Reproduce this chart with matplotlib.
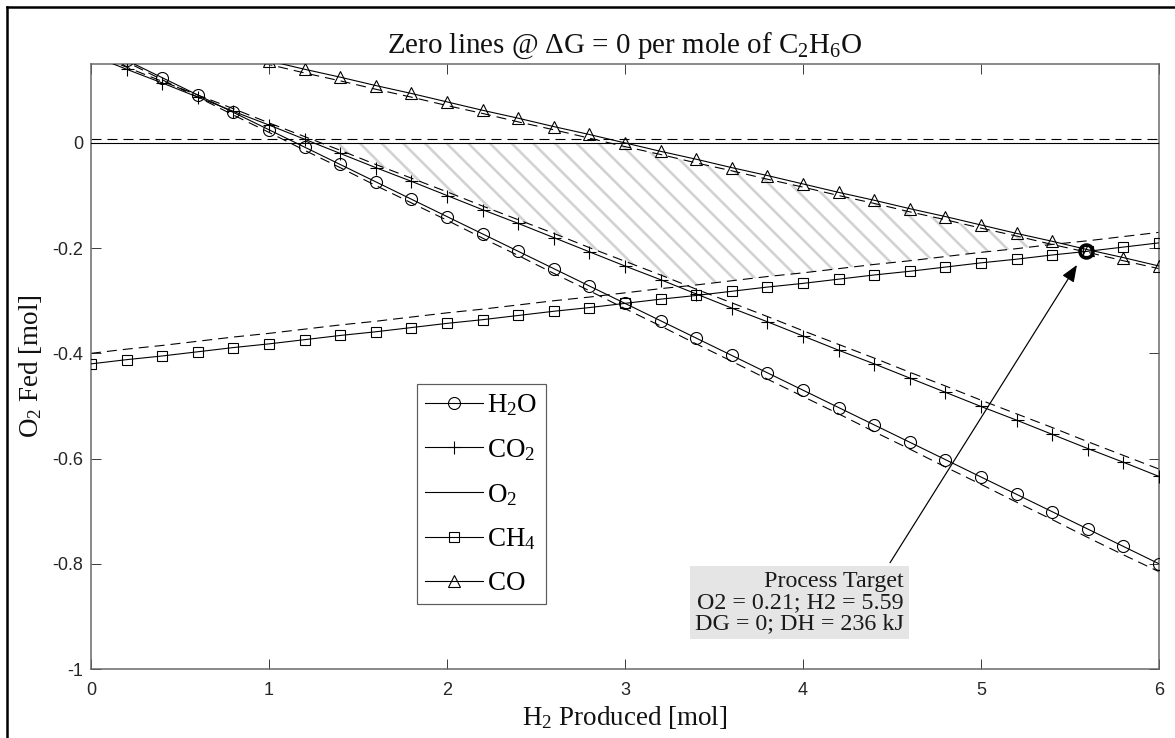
import numpy as np
import matplotlib
matplotlib.use("Agg")
import matplotlib.pyplot as plt
from matplotlib.lines import Line2D

# ---------------- data ----------------
h2_produced = [0.0, 0.2, 0.4, 0.6, 0.8, 1.0, 1.2, 1.4, 1.6, 1.8, 2.0,
               2.2, 2.4, 2.6, 2.8, 3.0, 3.2, 3.4, 3.6, 3.8, 4.0,
               4.2, 4.4, 4.6, 4.8, 5.0, 5.2, 5.4, 5.6, 5.8, 6.0]

h2o_solid = [0.190, 0.157, 0.124, 0.091, 0.058, 0.025, -0.008, -0.041, -0.074, -0.107, -0.140,
             -0.173, -0.206, -0.239, -0.272, -0.305, -0.338, -0.371, -0.404, -0.437, -0.470,
             -0.503, -0.536, -0.569, -0.602, -0.635, -0.668, -0.701, -0.734, -0.767, -0.800]
h2o_dashed = [0.187, 0.154, 0.120, 0.087, 0.053, 0.020, -0.014, -0.047, -0.081, -0.114, -0.147,
              -0.181, -0.214, -0.248, -0.281, -0.315, -0.348, -0.382, -0.415, -0.449, -0.482,
              -0.515, -0.549, -0.582, -0.616, -0.649, -0.683, -0.716, -0.750, -0.783, -0.815]

co2_solid = [0.167, 0.140, 0.114, 0.087, 0.060, 0.034, 0.007, -0.020, -0.047, -0.073, -0.100,
             -0.127, -0.153, -0.180, -0.207, -0.234, -0.260, -0.287, -0.314, -0.340, -0.367,
             -0.394, -0.420, -0.447, -0.474, -0.501, -0.527, -0.554, -0.581, -0.607, -0.634]
co2_dashed = [0.170, 0.144, 0.117, 0.091, 0.065, 0.038, 0.012, -0.014, -0.041, -0.067, -0.093,
              -0.120, -0.146, -0.172, -0.199, -0.225, -0.251, -0.278, -0.304, -0.330, -0.357,
              -0.383, -0.409, -0.436, -0.462, -0.489, -0.515, -0.541, -0.568, -0.594, -0.620]

o2_solid = [0.0] * 31
o2_dashed = [0.008] * 31

ch4_solid = [-0.420, -0.412, -0.405, -0.397, -0.389, -0.382, -0.374, -0.366, -0.359, -0.351, -0.343,
             -0.336, -0.328, -0.320, -0.313, -0.305, -0.297, -0.290, -0.282, -0.274, -0.267,
             -0.259, -0.251, -0.244, -0.236, -0.228, -0.221, -0.213, -0.206, -0.198, -0.190]
ch4_dashed = [-0.400, -0.392, -0.385, -0.377, -0.369, -0.362, -0.354, -0.346, -0.339, -0.331, -0.323,
              -0.316, -0.308, -0.300, -0.293, -0.285, -0.277, -0.270, -0.262, -0.254, -0.247,
              -0.239, -0.231, -0.224, -0.216, -0.208, -0.201, -0.193, -0.186, -0.178, -0.170]

co_solid = [0.234, 0.218, 0.203, 0.187, 0.172, 0.156, 0.140, 0.125, 0.109, 0.094, 0.078,
            0.062, 0.047, 0.031, 0.016, 0.000, -0.016, -0.031, -0.047, -0.062, -0.078,
            -0.094, -0.109, -0.125, -0.140, -0.156, -0.172, -0.187, -0.203, -0.218, -0.234]
co_dashed = [0.226, 0.211, 0.195, 0.180, 0.164, 0.149, 0.133, 0.118, 0.102, 0.087, 0.071,
             0.056, 0.040, 0.025, 0.009, -0.007, -0.022, -0.038, -0.053, -0.069, -0.084,
             -0.100, -0.115, -0.131, -0.146, -0.162, -0.177, -0.193, -0.208, -0.224, -0.239]

series_labels = [r"$\mathrm{H_2O}$", r"$\mathrm{CO_2}$", r"$\mathrm{O_2}$",
                 r"$\mathrm{CH_4}$", r"$\mathrm{CO}$"]

target_h2 = 5.59
target_o2 = -0.205
arrow_tail = (4.489, -0.798)
arrow_head = (5.539, -0.232)

x_ticks = [0, 1, 2, 3, 4, 5, 6]
x_tick_labels = ["0", "1", "2", "3", "4", "5", "6"]
y_ticks = [-1.0, -0.8, -0.6, -0.4, -0.2, 0.0]
y_tick_labels = ["-1", "-0.8", "-0.6", "-0.4", "-0.2", "0"]

title_text = r"Zero lines @ $\Delta$G = 0 per mole of $\mathrm{C_2H_6O}$"
xlabel_text = r"$\mathrm{H_2}$ Produced [mol]"
ylabel_text = r"$\mathrm{O_2}$ Fed [mol]"
box_text = "Process Target\nO2 = 0.21; H2 = 5.59\nDG = 0; DH = 236 kJ"

# ---------------- style ----------------
DPI = 130
W, H = 1175, 738


def pt(px):
    return px * 72.0 / DPI


plt.rcParams["font.family"] = ["Liberation Serif", "DejaVu Serif"]
plt.rcParams["mathtext.fontset"] = "custom"
plt.rcParams["mathtext.rm"] = "Liberation Serif"
plt.rcParams["mathtext.it"] = "Liberation Serif:italic"
plt.rcParams["mathtext.bf"] = "Liberation Serif:bold"
plt.rcParams["axes.unicode_minus"] = False
plt.rcParams["lines.scale_dashes"] = False
plt.rcParams["hatch.linewidth"] = pt(2.6)

fig = plt.figure(figsize=(W / DPI, H / DPI), dpi=DPI)
ax_l, ax_r, ax_t, ax_b = 91, 1159, 64, 669
ax = fig.add_axes([ax_l / W, 1 - ax_b / H, (ax_r - ax_l) / W, (ax_b - ax_t) / H])

x = np.array(h2_produced)
lw = pt(1.1)
dash = (pt(10), pt(6))

# hatched feasible region (between dashed boundaries and the zero line)
xf = np.linspace(0, 6, 2401)
upper = np.minimum(np.interp(xf, x, o2_solid), np.interp(xf, x, co_dashed))
lower = np.maximum(np.interp(xf, x, co2_dashed), np.interp(xf, x, ch4_dashed))
ax.fill_between(xf, lower, upper, where=upper > lower, interpolate=True,
                facecolor="none", edgecolor="#d2d2d2", hatch="\\\\", linewidth=0, zorder=1)

# dashed lines
for ys in (h2o_dashed, co2_dashed, o2_dashed, ch4_dashed, co_dashed):
    ax.plot(x, ys, color="k", lw=lw, linestyle=(0, dash), zorder=2)

# solid lines with markers
mk = dict(color="k", lw=lw, mfc="none", mec="k", mew=pt(1.1), zorder=3)
ax.plot(x, h2o_solid, marker="o", ms=pt(12), label=series_labels[0], **mk)
ax.plot(x, co2_solid, marker="+", ms=pt(13), label=series_labels[1], **mk)
ax.plot(x, o2_solid, label=series_labels[2], color="k", lw=lw, zorder=3)
ax.plot(x, ch4_solid, marker="s", ms=pt(10), label=series_labels[3], **mk)
ax.plot(x, co_solid, marker="^", ms=pt(12), label=series_labels[4], **mk)

# process target
ax.plot([target_h2], [target_o2], marker="o", ms=pt(13), mfc="none", mec="k",
        mew=pt(3.5), zorder=5)

ax.annotate("", xy=arrow_head, xytext=arrow_tail,
            arrowprops=dict(arrowstyle="-|>,head_length=0.55,head_width=0.22",
                            mutation_scale=pt(26), lw=pt(1.2), color="k",
                            shrinkA=0, shrinkB=0), zorder=6)

ax.text(4.567, -0.933, box_text, ha="right", va="bottom", multialignment="right",
        fontsize=pt(24), linespacing=1.0, color="#1a1a1a", zorder=6,
        bbox=dict(boxstyle="square,pad=0.2", facecolor="#e5e5e5", edgecolor="none"))

ax.set_xlim(0, 6)
ax.set_ylim(-1, 0.15)
ax.set_xticks(x_ticks)
ax.set_xticklabels(x_tick_labels)
ax.set_yticks(y_ticks)
ax.set_yticklabels(y_tick_labels)
ax.tick_params(direction="in", length=pt(10), width=pt(1), color="#404040",
               top=True, right=True, labelsize=pt(18), labelcolor="#262626")
ax.tick_params(axis="x", pad=pt(13))
ax.tick_params(axis="y", pad=pt(8))
for lab in ax.get_xticklabels() + ax.get_yticklabels():
    lab.set_fontfamily(["Liberation Sans", "DejaVu Sans"])
for sp in ax.spines.values():
    sp.set_color("#666666")
    sp.set_linewidth(pt(1.5))

ax.set_title(title_text, fontsize=pt(29), pad=pt(11), color="#111111")
ax.set_xlabel(xlabel_text, fontsize=pt(27), color="#111111")
ax.xaxis.set_label_coords(0.5, -(704 - ax_b) / (ax_b - ax_t))
ax.set_ylabel(ylabel_text, fontsize=pt(27), color="#111111")
ax.yaxis.set_label_coords(-(ax_l - 44) / (ax_r - ax_l), 0.5)

leg = ax.legend(loc="upper left", bbox_to_anchor=((417 - ax_l) / (ax_r - ax_l),
                                                   (ax_b - 384) / (ax_b - ax_t)),
                borderaxespad=0, fontsize=pt(27), frameon=True, fancybox=False,
                numpoints=1, handlelength=2.15, handletextpad=0.15,
                labelspacing=0.7, borderpad=0.3)
leg.get_frame().set_edgecolor("#333333")
leg.get_frame().set_linewidth(pt(1.2))

# figure border (left and top)
fig.add_artist(Line2D([7 / W, 7 / W], [0, 1 - 7 / H], color="k", lw=pt(2.5)))
fig.add_artist(Line2D([7 / W, 1], [1 - 7 / H, 1 - 7 / H], color="k", lw=pt(2.5)))

fig.savefig("out.png", dpi=DPI)
